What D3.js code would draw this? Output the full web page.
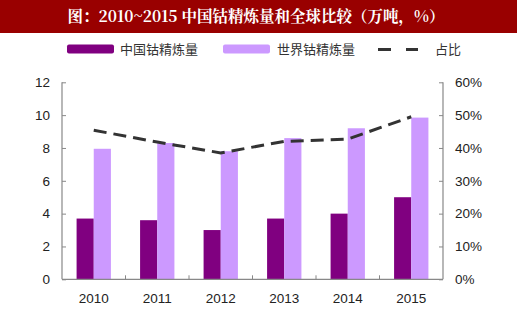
<!DOCTYPE html>
<html><head><meta charset="utf-8">
<script src="https://cdn.jsdelivr.net/npm/d3@7"></script>
<style>body{margin:0;background:#fff}svg{display:block}</style>
</head><body>
<script>
const years = ["2010","2011","2012","2013","2014","2015"];
const china = [3.7, 3.6, 3.0, 3.7, 4.0, 5.0];
const world = [7.95, 8.3, 7.8, 8.6, 9.2, 9.85];
const share = [45.4, 41.8, 38.5, 42.0, 42.7, 49.5];
const leftTicks = [0,2,4,6,8,10,12];
const rightTicks = [0,10,20,30,40,50,60];
const title = "图：2010~2015 中国钴精炼量和全球比较（万吨，%）";
const seriesNames = ["中国钴精炼量","世界钴精炼量","占比"];

const W=520,H=336;
const svg=d3.select("body").append("svg").attr("width",W).attr("height",H);
const font="Arial, 'Liberation Sans', 'Noto Sans CJK SC', sans-serif";
const cjk="'Noto Sans CJK SC', sans-serif";

svg.append("rect").attr("x",0).attr("y",0).attr("width",517).attr("height",33).attr("fill","#990000");
svg.append("text").attr("x",256).attr("y",22).attr("text-anchor","middle").attr("fill","#fff")
  .attr("font-family","'Noto Serif CJK SC','Noto Sans CJK SC',serif").attr("font-weight","bold").attr("font-size",15.5).text(title);

const m={l:62,r:443,t:82.3,b:279.3};
const x=d3.scaleBand().domain(years).range([m.l,m.r]).paddingInner(0).paddingOuter(0);
const y=d3.scaleLinear().domain([0,12]).range([m.b,m.t]);
const y2=d3.scaleLinear().domain([0,60]).range([m.b,m.t]);
const inner=d3.scaleBand().domain(["c","w"]).range([0,x.bandwidth()]).paddingInner(0).paddingOuter(0.85);

const c1="#800080", c2="#cc99ff";
const g=svg.append("g");
g.selectAll(".b1").data(years).join("rect").attr("x",d=>x(d)+inner("c")).attr("width",inner.bandwidth())
  .attr("y",(d,i)=>y(china[i])).attr("height",(d,i)=>m.b-y(china[i])).attr("fill",c1);
g.selectAll(".b2").data(years).join("rect").attr("x",d=>x(d)+inner("w")).attr("width",inner.bandwidth())
  .attr("y",(d,i)=>y(world[i])).attr("height",(d,i)=>m.b-y(world[i])).attr("fill",c2);

const line=d3.line().x((d,i)=>x(years[i])+x.bandwidth()/2).y(d=>y2(d));
g.append("path").attr("d",line(share)).attr("fill","none").attr("stroke","#333").attr("stroke-width",3).attr("stroke-dasharray","13,7");

const axColor="#888";
const la=svg.append("g").attr("transform",`translate(${m.l},0)`).call(d3.axisLeft(y).tickValues(leftTicks).tickSize(-4).tickPadding(12).tickFormat(d3.format("d")));
const ra=svg.append("g").attr("transform",`translate(${m.r},0)`).call(d3.axisRight(y2).tickValues(rightTicks).tickSize(-4).tickPadding(12).tickFormat(d=>d+"%"));
const xa=svg.append("g").attr("transform",`translate(0,${m.b})`).call(d3.axisBottom(x).tickSize(0).tickPadding(14));
svg.append("g").selectAll("line").data(years.slice(1)).join("line")
  .attr("x1",d=>x(d)).attr("x2",d=>x(d)).attr("y1",m.b).attr("y2",m.b-4).attr("stroke",axColor);
[la,ra,xa].forEach(a=>{
  a.selectAll("path.domain").attr("stroke",axColor).attr("stroke-width",1.2);
  a.selectAll(".tick line").attr("stroke",axColor);
  a.selectAll("text").attr("font-family",font).attr("font-size",13.5).attr("fill","#222");
});
ra.select("path.domain").attr("d",`M0,${m.t}V${m.b}`);
la.select("path.domain").attr("d",`M0,${m.t}V${m.b}`);
xa.select("path.domain").attr("d",`M${m.l},0H${m.r}`);

const lg=svg.append("g");
lg.append("rect").attr("x",67).attr("y",44.5).attr("width",47).attr("height",9).attr("rx",2).attr("fill",c1);
lg.append("text").attr("x",120).attr("y",54).attr("font-family",cjk).attr("font-size",13).attr("fill","#333").text(seriesNames[0]);
lg.append("rect").attr("x",223).attr("y",44.5).attr("width",47).attr("height",9).attr("rx",2).attr("fill",c2);
lg.append("text").attr("x",277).attr("y",54).attr("font-family",cjk).attr("font-size",13).attr("fill","#333").text(seriesNames[1]);
lg.append("line").attr("x1",378).attr("x2",418).attr("y1",49.5).attr("y2",49.5).attr("stroke","#333").attr("stroke-width",3).attr("stroke-dasharray","13,15");
lg.append("text").attr("x",435).attr("y",54).attr("font-family",cjk).attr("font-size",13).attr("fill","#333").text(seriesNames[2]);
</script>
</body></html>
